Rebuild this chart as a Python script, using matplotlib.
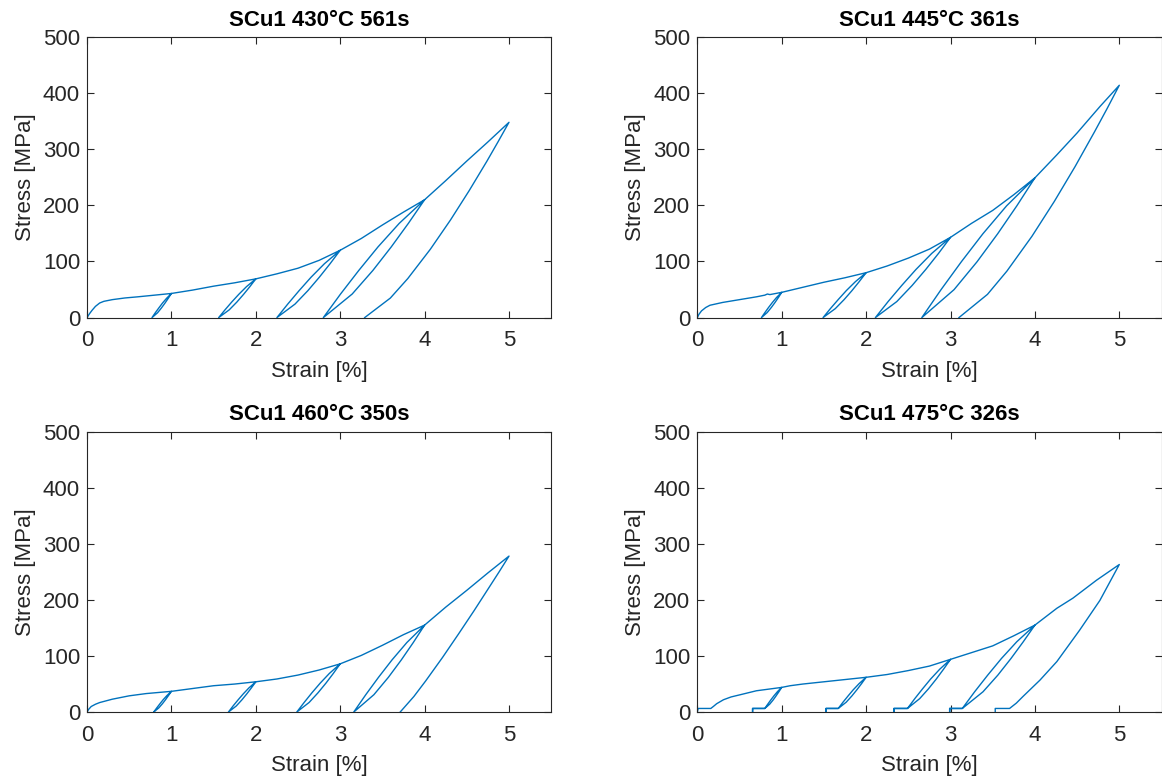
import matplotlib
matplotlib.use("Agg")
import matplotlib.pyplot as plt

titles = ["SCu1 430°C 561s", "SCu1 445°C 361s", "SCu1 460°C 350s", "SCu1 475°C 326s"]
peak_strain = [1, 2, 3, 4, 5]
x_ticks = [0, 1, 2, 3, 4, 5]
y_ticks = [0, 100, 200, 300, 400, 500]

# ---------------- Panel 1 : 430 °C ----------------
env1_strain = [0, 0.03, 0.06, 0.10, 0.15, 0.20, 0.30, 0.45, 0.60, 0.80, 1.00, 1.25, 1.50, 1.75, 2.00,
               2.25, 2.50, 2.75, 3.00, 3.25, 3.50, 3.75, 4.00, 4.25, 4.50, 4.75, 5.00]
env1_stress = [0, 7, 13, 20, 26, 29, 32, 35, 37, 40, 43, 49, 56, 62, 69,
               78, 88, 102, 120, 141, 165, 188, 210, 244, 279, 313, 348]
rel1_strain = [[0.77, 0.809, 0.851, 0.894, 0.943, 1.0],
               [1.56, 1.635, 1.714, 1.798, 1.89, 2.0],
               [2.25, 2.378, 2.513, 2.655, 2.813, 3.0],
               [2.80, 3.004, 3.22, 3.448, 3.70, 4.0]]
rel1_stress = [[0, 8.6, 17.2, 25.8, 34.4, 43],
               [0, 13.8, 27.6, 41.4, 55.2, 69],
               [0, 24, 48, 72, 96, 120],
               [0, 42, 84, 126, 168, 210]]
unl1_strain = [[0.77, 0.836, 0.882, 0.924, 0.963, 1.0],
               [1.56, 1.685, 1.775, 1.855, 1.93, 2.0],
               [2.25, 2.464, 2.617, 2.753, 2.88, 3.0],
               [2.80, 3.142, 3.387, 3.605, 3.808, 4.0],
               [3.29, 3.594, 3.801, 4.068, 4.307, 4.528, 4.737, 4.870, 5.0]]
unl1_stress = [[0, 8.6, 17.2, 25.8, 34.4, 43],
               [0, 13.8, 27.6, 41.4, 55.2, 69],
               [0, 24, 48, 72, 96, 120],
               [0, 42, 84, 126, 168, 210],
               [0, 34.8, 69.6, 121.8, 174, 226.2, 278.4, 313.2, 348]]

# ---------------- Panel 2 : 445 °C ----------------
env2_strain = [0, 0.02, 0.05, 0.10, 0.15, 0.30, 0.50, 0.70, 0.80, 0.83, 0.86, 1.00, 1.25, 1.50, 1.75, 2.00,
               2.25, 2.50, 2.75, 3.00, 3.25, 3.50, 3.75, 4.00, 4.26, 4.50, 4.77, 5.00]
env2_stress = [0, 6, 12, 18, 22, 27, 32, 37, 40, 42, 41, 45, 54, 63, 71, 80,
               92, 106, 122, 143, 168, 191, 219, 249, 290, 329, 376, 414]
rel2_strain = [[0.76, 0.801, 0.844, 0.890, 0.94, 1.0],
               [1.49, 1.577, 1.669, 1.765, 1.873, 2.0],
               [2.11, 2.261, 2.422, 2.591, 2.778, 3.0],
               [2.66, 2.888, 3.129, 3.384, 3.665, 4.0]]
rel2_stress = [[0, 9, 18, 27, 36, 45],
               [0, 16, 32, 48, 64, 80],
               [0, 28.6, 57.2, 85.8, 114.4, 143],
               [0, 49.8, 99.6, 149.4, 199.2, 249]]
unl2_strain = [[0.76, 0.828, 0.877, 0.921, 0.962, 1.0],
               [1.49, 1.635, 1.739, 1.832, 1.918, 2.0],
               [2.11, 2.364, 2.545, 2.707, 2.858, 3.0],
               [2.66, 3.042, 3.315, 3.559, 3.786, 4.0],
               [3.10, 3.438, 3.668, 3.965, 4.23, 4.476, 4.707, 4.856, 5.0]]
unl2_stress = [[0, 9, 18, 27, 36, 45],
               [0, 16, 32, 48, 64, 80],
               [0, 28.6, 57.2, 85.8, 114.4, 143],
               [0, 49.8, 99.6, 149.4, 199.2, 249],
               [0, 41.4, 82.8, 144.9, 207, 269.1, 331.2, 372.6, 414]]

# ---------------- Panel 3 : 460 °C ----------------
env3_strain = [0, 0.02, 0.05, 0.10, 0.15, 0.30, 0.50, 0.70, 1.00, 1.25, 1.50, 1.75, 2.00,
               2.25, 2.50, 2.75, 3.00, 3.25, 3.50, 3.75, 4.00, 4.25, 4.50, 4.75, 5.00]
env3_stress = [0, 5, 10, 14, 17, 23, 29, 33, 37, 42, 47, 50, 54,
               59, 66, 75, 86, 101, 119, 138, 155, 187, 217, 248, 278]
rel3_strain = [[0.79, 0.826, 0.864, 0.903, 0.948, 1.0],
               [1.675, 1.730, 1.789, 1.851, 1.919, 2.0],
               [2.485, 2.573, 2.665, 2.763, 2.871, 3.0],
               [3.16, 3.303, 3.454, 3.614, 3.79, 4.0]]
rel3_stress = [[0, 7.4, 14.8, 22.2, 29.6, 37],
               [0, 10.8, 21.6, 32.4, 43.2, 54],
               [0, 17.2, 34.4, 51.6, 68.8, 86],
               [0, 31, 62, 93, 124, 155]]
unl3_strain = [[0.79, 0.850, 0.893, 0.931, 0.966, 1.0],
               [1.675, 1.768, 1.834, 1.893, 1.948, 2.0],
               [2.485, 2.632, 2.737, 2.831, 2.918, 3.0],
               [3.16, 3.399, 3.571, 3.724, 3.866, 4.0],
               [3.71, 3.873, 4.013, 4.212, 4.401, 4.586, 4.765, 4.884, 5.0]]
unl3_stress = [[0, 7.4, 14.8, 22.2, 29.6, 37],
               [0, 10.8, 21.6, 32.4, 43.2, 54],
               [0, 17.2, 34.4, 51.6, 68.8, 86],
               [0, 31, 62, 93, 124, 155],
               [0, 27.8, 55.6, 97.3, 139, 180.7, 222.4, 250.2, 278]]

# ---------------- Panel 4 : 475 °C ----------------
env4_strain = [0, 0.01, 0.16, 0.19, 0.23, 0.31, 0.40, 0.51, 0.70, 0.85, 1.00, 1.10, 1.25, 1.50, 1.75, 2.00,
               2.25, 2.50, 2.75, 3.00, 3.25, 3.50, 3.75, 4.00, 4.26, 4.45, 4.73, 5.00]
env4_stress = [0, 6.5, 6.5, 10, 15, 22, 27, 31, 38, 41, 44, 47, 50, 54, 58, 62,
               67, 74, 82, 94, 106, 118, 136, 155, 185, 203, 235, 263]
foot4_start = [0.655, 1.525, 2.33, 2.99, 3.53]
foot4_end = [0.80, 1.67, 2.49, 3.14, 3.70]
foot4_stress = 6.5
rel4_strain = [[0.80, 0.834, 0.87, 0.908, 0.95, 1.0],
               [1.67, 1.726, 1.786, 1.848, 1.918, 2.0],
               [2.49, 2.577, 2.669, 2.765, 2.873, 3.0],
               [3.14, 3.286, 3.441, 3.604, 3.785, 4.0]]
rel4_stress = [[6.5, 14, 21.5, 29, 36.5, 44],
               [6.5, 17.6, 28.7, 39.8, 50.9, 62],
               [6.5, 24, 41.5, 59, 76.5, 94],
               [6.5, 36.2, 65.9, 95.6, 125.3, 155]]
unl4_strain = [[0.80, 0.857, 0.898, 0.934, 0.968, 1.0],
               [1.67, 1.764, 1.831, 1.891, 1.947, 2.0],
               [2.49, 2.635, 2.739, 2.832, 2.918, 3.0],
               [3.14, 3.385, 3.561, 3.717, 3.862, 4.0],
               [3.70, 3.78, 3.86, 4.06, 4.26, 4.53, 4.77, 5.0]]
unl4_stress = [[6.5, 14, 21.5, 29, 36.5, 44],
               [6.5, 17.6, 28.7, 39.8, 50.9, 62],
               [6.5, 24, 41.5, 59, 76.5, 94],
               [6.5, 36.2, 65.9, 95.6, 125.3, 155],
               [6.5, 16, 28, 57, 90, 146, 199, 263]]

panels = [
    dict(env=(env1_strain, env1_stress), rel=(rel1_strain, rel1_stress), unl=(unl1_strain, unl1_stress)),
    dict(env=(env2_strain, env2_stress), rel=(rel2_strain, rel2_stress), unl=(unl2_strain, unl2_stress)),
    dict(env=(env3_strain, env3_stress), rel=(rel3_strain, rel3_stress), unl=(unl3_strain, unl3_stress)),
    dict(env=(env4_strain, env4_stress), rel=(rel4_strain, rel4_stress), unl=(unl4_strain, unl4_stress),
         foot=(foot4_start, foot4_end, foot4_stress)),
]


def build_path(p):
    ex, ey = p["env"]
    rx, ry = p["rel"]
    ux, uy = p["unl"]
    foot = p.get("foot")
    xs, ys = [], []
    prev = -1.0
    for k, pk in enumerate(peak_strain):
        for x, y in zip(ex, ey):
            if prev < x <= pk + 1e-9:
                xs.append(x)
                ys.append(y)
        # unloading (reverse order, from peak down)
        xs.extend(ux[k][::-1][1:])
        ys.extend(uy[k][::-1][1:])
        if foot is not None:
            fa, fb, fy = foot
            xs.extend([fa[k], fa[k]])
            ys.extend([fy, 0])
            if k < len(rx):
                xs.extend([fa[k], fb[k]])
                ys.extend([fy, fy])
        if k < len(rx):
            xs.extend(rx[k][1:])
            ys.extend(ry[k][1:])
        prev = pk
    return xs, ys


plt.rcParams["font.family"] = ["Liberation Sans", "DejaVu Sans"]
W, H = 1162, 783
fig = plt.figure(figsize=(W / 100, H / 100), dpi=100)
fig.patch.set_facecolor("white")

ax_px = [(87, 37), (697.3, 37), (87, 431.5), (697.3, 431.5)]
ax_w, ax_h = 464.2, 280.6
axis_col = "#262626"

for i, p in enumerate(panels):
    left, top = ax_px[i]
    ax = fig.add_axes([left / W, 1 - (top + ax_h) / H, ax_w / W, ax_h / H])
    xs, ys = build_path(p)
    ax.plot(xs, ys, color="#0072BD", lw=1.0, solid_joinstyle="round")
    ax.set_xlim(0, 5.5)
    ax.set_ylim(0, 500)
    ax.set_xticks(x_ticks)
    ax.set_yticks(y_ticks)
    ax.tick_params(direction="in", top=True, right=True, length=5, width=0.8,
                   colors=axis_col, labelsize=16)
    ax.tick_params(axis="x", pad=9)
    ax.tick_params(axis="y", pad=5)
    for s in ax.spines.values():
        s.set_color(axis_col)
        s.set_linewidth(0.8)
    ax.set_title(titles[i], fontsize=16, fontweight="bold", pad=8)
    ax.set_xlabel("Strain [%]", fontsize=16, labelpad=7, color=axis_col)
    ax.set_ylabel("Stress [MPa]", fontsize=16, labelpad=5, color=axis_col)

fig.savefig("out.png", dpi=100, facecolor="white")
